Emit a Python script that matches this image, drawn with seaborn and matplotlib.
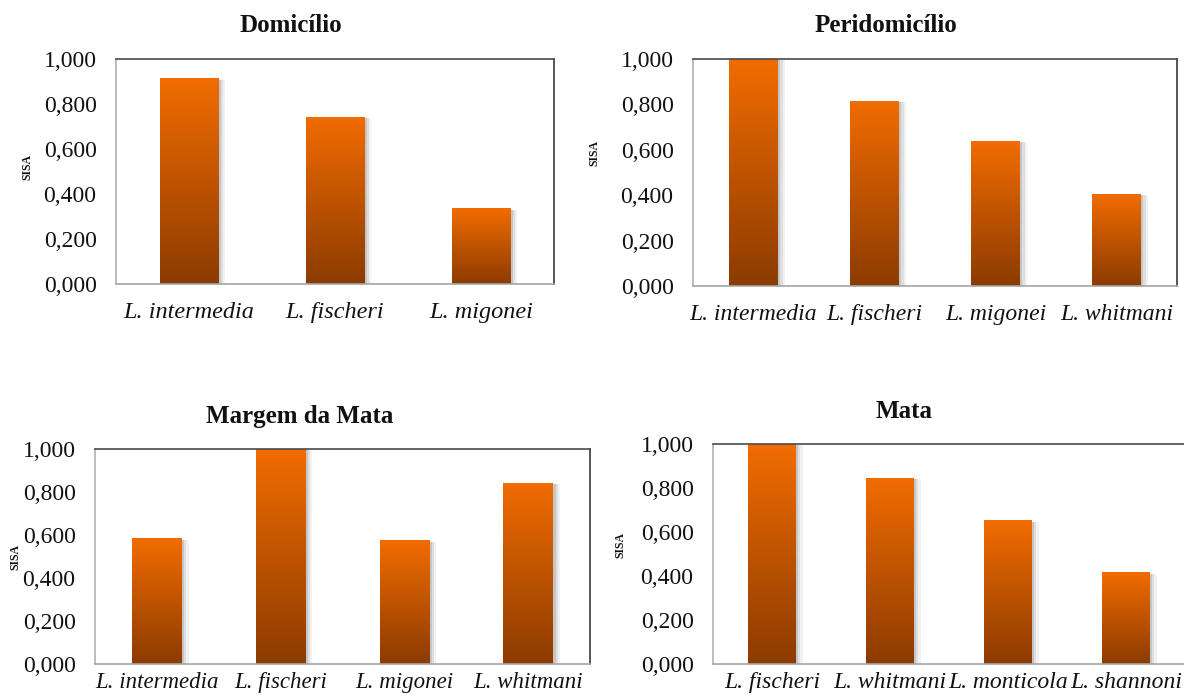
import numpy as np
import pandas as pd
import matplotlib
matplotlib.use("Agg")
import matplotlib.pyplot as plt
import matplotlib.patheffects as pe
from matplotlib.colors import LinearSegmentedColormap
from matplotlib.ticker import FuncFormatter
import seaborn as sns

# SISA index per species in each environment
domicilio_species = ["L. intermedia", "L. fischeri", "L. migonei"]
domicilio_sisa = [0.915, 0.743, 0.336]

peridomicilio_species = ["L. intermedia", "L. fischeri", "L. migonei", "L. whitmani"]
peridomicilio_sisa = [1.000, 0.816, 0.640, 0.407]

margem_species = ["L. intermedia", "L. fischeri", "L. migonei", "L. whitmani"]
margem_sisa = [0.585, 1.000, 0.576, 0.842]

mata_species = ["L. fischeri", "L. whitmani", "L. monticola", "L. shannoni"]
mata_sisa = [1.000, 0.846, 0.653, 0.416]

panel_titles = ["Domicílio", "Peridomicílio", "Margem da Mata", "Mata"]
y_ticks = [0.0, 0.2, 0.4, 0.6, 0.8, 1.0]

sns.set_theme(style="white")
plt.rcParams["font.family"] = ["Liberation Serif", "DejaVu Serif"]

W, H = 1184, 700
fig = plt.figure(figsize=(W / 100, H / 100), dpi=100)
fig.patch.set_facecolor("white")

TOP_COLOR = "#F26C00"
BOTTOM_COLOR = "#8C3B00"
grad_cmap = LinearSegmentedColormap.from_list("bar_grad", [BOTTOM_COLOR, TOP_COLOR])
gradient = np.linspace(0, 1, 256).reshape(-1, 1)

# soft drop shadow on the right side of each bar
bar_shadow = [
    pe.SimplePatchShadow(offset=(5, -1), shadow_rgbFace="#9a9a9a", alpha=0.12),
    pe.SimplePatchShadow(offset=(3.5, -1), shadow_rgbFace="#8a8a8a", alpha=0.18),
    pe.SimplePatchShadow(offset=(2, -1), shadow_rgbFace="#7a7a7a", alpha=0.25),
    pe.Normal(),
]


def px_axes(left, right, top, bottom):
    return fig.add_axes([left / W, 1 - bottom / H, (right - left) / W, (bottom - top) / H])


def draw_panel(ax, species, values, xpad, xsize):
    df = pd.DataFrame({"species": species, "sisa": values})
    sns.barplot(data=df, x="species", y="sisa", ax=ax, width=0.4,
                color=BOTTOM_COLOR, saturation=1, errorbar=None)
    for patch in list(ax.patches):
        x0, y0 = patch.get_x(), patch.get_y()
        w, h = patch.get_width(), patch.get_height()
        patch.set_edgecolor("none")
        patch.set_path_effects(bar_shadow)
        img = ax.imshow(gradient, extent=(x0, x0 + w, y0, y0 + h), origin="lower",
                        cmap=grad_cmap, aspect="auto", zorder=patch.get_zorder() + 0.1,
                        interpolation="bilinear")
        img.set_clip_path(patch)
    ax.set_xlim(-0.5, len(species) - 0.5)
    ax.set_ylim(0, 1)
    ax.set_xlabel("")
    ax.set_ylabel("")
    ax.set_yticks(y_ticks)
    ax.yaxis.set_major_formatter(FuncFormatter(lambda v, p: f"{v:.3f}".replace(".", ",")))
    ax.tick_params(axis="y", length=0, pad=14, labelsize=17, colors="#111111")
    ax.tick_params(axis="x", length=0, pad=xpad, labelsize=xsize, colors="#111111")
    for lab in ax.get_xticklabels():
        lab.set_fontstyle("italic")
    ax.spines["top"].set_color("#4a4a4a")
    ax.spines["right"].set_color("#3a3a3a")
    ax.spines["left"].set_color("#b0b0b0")
    ax.spines["bottom"].set_color("#a6a6a6")
    for s in ax.spines.values():
        s.set_linewidth(1.2)
        s.set_visible(True)
    ax.grid(False)
    ax.set_facecolor("white")


panels = [
    (px_axes(116, 554, 59, 284), domicilio_species, domicilio_sisa, (291, 25), (27, 167), 13, 17.5),
    (px_axes(693, 1177, 59, 286), peridomicilio_species, peridomicilio_sisa, (886, 25), (594, 153), 13, 17),
    (px_axes(95, 590, 449, 664), margem_species, margem_sisa, (300, 417), (15, 557), 6, 16.5),
    (px_axes(713, 1185, 444, 664), mata_species, mata_sisa, (904, 412), (620, 545), 6, 17),
]

for (ax, sp, vals, tpos, ypos, xpad, xsize), title in zip(panels, panel_titles):
    draw_panel(ax, sp, vals, xpad, xsize)
    fig.text(tpos[0] / W, 1 - tpos[1] / H, title, ha="center", va="center",
             fontsize=18, fontweight="bold", color="#111111")
    fig.text(ypos[0] / W, 1 - ypos[1] / H, "SISA", ha="center", va="center",
             rotation=90, fontsize=8.5, fontweight="bold", color="#111111")

fig.savefig("out.png", dpi=100, facecolor="white")
